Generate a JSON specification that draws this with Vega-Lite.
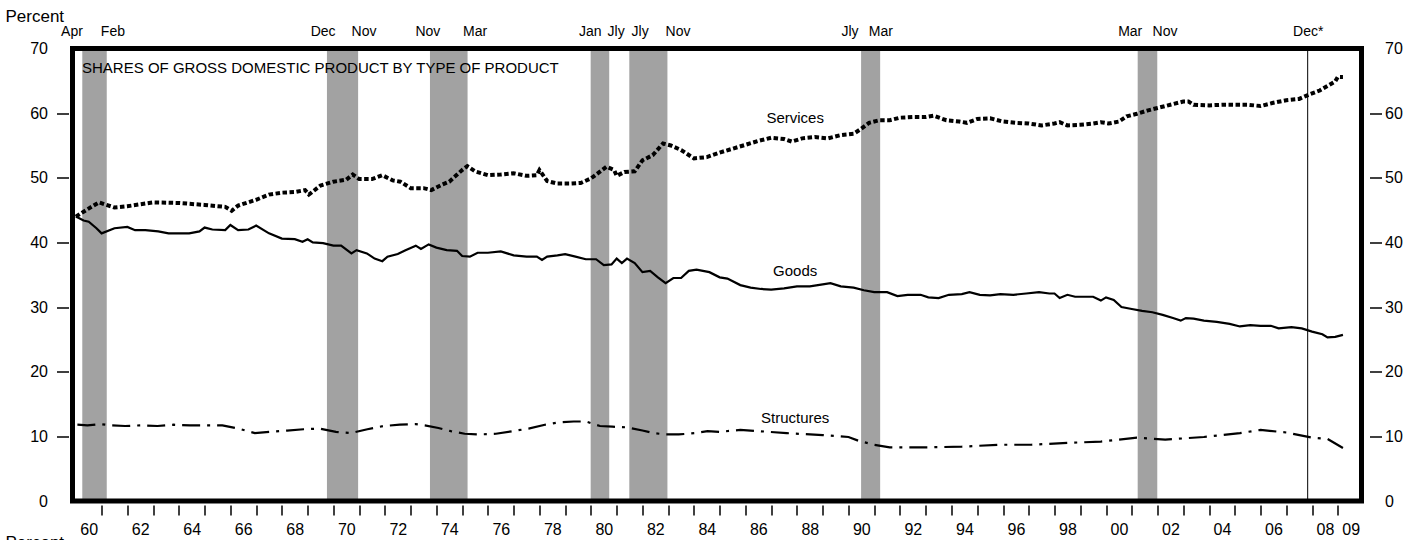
{
  "$schema": "https://vega.github.io/schema/vega-lite/v6.json",
  "width": 1289,
  "height": 452.5,
  "autosize": {"type": "none"},
  "padding": {"left": 72.5, "top": 48.5, "right": 62.5, "bottom": 39},
  "background": "white",
  "config": {
    "view": {"stroke": "black", "strokeWidth": 5},
    "style": {"cell": {"strokeForeground": true}},
    "font": "Liberation Sans",
    "axis": {"domain": false, "grid": false, "labelColor": "black", "labelFont": "Liberation Sans", "labelFontSize": 16, "labelOverlap": false, "labelFlush": false, "titleFont": "Liberation Sans", "titleFontWeight": "normal", "titleColor": "black"}
  },
  "datasets": {
    "recessions": [
      {"start": 1960.25, "end": 1961.2},
      {"start": 1969.75, "end": 1970.96},
      {"start": 1973.75, "end": 1975.21},
      {"start": 1979.99, "end": 1980.71},
      {"start": 1981.49, "end": 1982.97},
      {"start": 1990.49, "end": 1991.23},
      {"start": 2001.23, "end": 2001.99}
    ],
    "recessionLabels": [
      {"label": "Apr", "date": 1959.85},
      {"label": "Feb", "date": 1961.44},
      {"label": "Dec", "date": 1969.6},
      {"label": "Nov", "date": 1971.19},
      {"label": "Nov", "date": 1973.67},
      {"label": "Mar", "date": 1975.5},
      {"label": "Jan", "date": 1979.97},
      {"label": "Jly", "date": 1980.98},
      {"label": "Jly", "date": 1981.91},
      {"label": "Nov", "date": 1983.38},
      {"label": "Jly", "date": 1990.06},
      {"label": "Mar", "date": 1991.26},
      {"label": "Mar", "date": 2000.94},
      {"label": "Nov", "date": 2002.29},
      {"label": "Dec*", "date": 2007.85}
    ],
    "marker": [{"date": 2007.83}],
    "chartTitle": [{"text": "SHARES OF GROSS DOMESTIC PRODUCT BY TYPE OF PRODUCT", "date": 1960.24, "value": 67.0}],
    "seriesLabels": [
      {"label": "Services", "year": 1987.93, "value": 59.25},
      {"label": "Goods", "year": 1987.93, "value": 35.6},
      {"label": "Structures", "year": 1987.93, "value": 12.9}
    ],
    "services": [
      {"year": 1960.0, "value": 44.0}, {"year": 1960.4, "value": 45.0}, {"year": 1960.9, "value": 46.2}, {"year": 1961.5, "value": 45.4},
      {"year": 1962.0, "value": 45.6}, {"year": 1962.5, "value": 45.9}, {"year": 1963.0, "value": 46.2}, {"year": 1964.0, "value": 46.1},
      {"year": 1965.0, "value": 45.8}, {"year": 1965.8, "value": 45.5}, {"year": 1966.05, "value": 44.9}, {"year": 1966.3, "value": 45.7},
      {"year": 1967.0, "value": 46.6}, {"year": 1967.5, "value": 47.4}, {"year": 1968.0, "value": 47.7}, {"year": 1968.5, "value": 47.8},
      {"year": 1968.9, "value": 48.1}, {"year": 1969.05, "value": 47.4}, {"year": 1969.5, "value": 48.8}, {"year": 1970.0, "value": 49.4},
      {"year": 1970.5, "value": 49.7}, {"year": 1970.75, "value": 50.5}, {"year": 1971.0, "value": 49.8}, {"year": 1971.5, "value": 49.8},
      {"year": 1971.9, "value": 50.4}, {"year": 1972.3, "value": 49.6}, {"year": 1972.6, "value": 49.4}, {"year": 1973.0, "value": 48.4},
      {"year": 1973.5, "value": 48.4}, {"year": 1973.8, "value": 48.1}, {"year": 1974.2, "value": 48.9}, {"year": 1974.5, "value": 49.4},
      {"year": 1975.0, "value": 51.2}, {"year": 1975.2, "value": 51.8}, {"year": 1975.5, "value": 51.0}, {"year": 1976.0, "value": 50.4},
      {"year": 1976.5, "value": 50.5}, {"year": 1977.0, "value": 50.7}, {"year": 1977.5, "value": 50.3}, {"year": 1977.9, "value": 50.4},
      {"year": 1978.0, "value": 51.2}, {"year": 1978.3, "value": 49.5}, {"year": 1978.7, "value": 49.1}, {"year": 1979.2, "value": 49.1},
      {"year": 1979.6, "value": 49.2}, {"year": 1980.0, "value": 49.9}, {"year": 1980.3, "value": 50.8}, {"year": 1980.6, "value": 51.7},
      {"year": 1980.9, "value": 51.2}, {"year": 1981.0, "value": 50.3}, {"year": 1981.3, "value": 50.9}, {"year": 1981.7, "value": 51.0},
      {"year": 1982.0, "value": 52.7}, {"year": 1982.4, "value": 53.5}, {"year": 1982.8, "value": 55.3}, {"year": 1983.1, "value": 55.0},
      {"year": 1983.5, "value": 54.3}, {"year": 1984.0, "value": 53.0}, {"year": 1984.5, "value": 53.2}, {"year": 1985.0, "value": 53.9},
      {"year": 1985.5, "value": 54.5}, {"year": 1986.0, "value": 55.1}, {"year": 1986.5, "value": 55.7}, {"year": 1987.0, "value": 56.2},
      {"year": 1987.5, "value": 56.0}, {"year": 1987.8, "value": 55.6}, {"year": 1988.2, "value": 56.1}, {"year": 1988.7, "value": 56.3},
      {"year": 1989.2, "value": 56.1}, {"year": 1989.7, "value": 56.6}, {"year": 1990.2, "value": 56.8}, {"year": 1990.5, "value": 57.6},
      {"year": 1990.8, "value": 58.5}, {"year": 1991.2, "value": 58.9}, {"year": 1991.6, "value": 58.9}, {"year": 1992.0, "value": 59.3},
      {"year": 1992.5, "value": 59.4}, {"year": 1993.0, "value": 59.4}, {"year": 1993.3, "value": 59.6}, {"year": 1993.8, "value": 58.9},
      {"year": 1994.3, "value": 58.7}, {"year": 1994.6, "value": 58.5}, {"year": 1995.0, "value": 59.1}, {"year": 1995.5, "value": 59.2},
      {"year": 1996.0, "value": 58.7}, {"year": 1996.5, "value": 58.5}, {"year": 1997.0, "value": 58.4}, {"year": 1997.5, "value": 58.1},
      {"year": 1998.0, "value": 58.4}, {"year": 1998.2, "value": 58.6}, {"year": 1998.5, "value": 58.1}, {"year": 1999.0, "value": 58.2},
      {"year": 1999.5, "value": 58.4}, {"year": 1999.8, "value": 58.6}, {"year": 2000.1, "value": 58.4}, {"year": 2000.5, "value": 58.7},
      {"year": 2000.8, "value": 59.5}, {"year": 2001.2, "value": 59.9}, {"year": 2001.6, "value": 60.4}, {"year": 2002.0, "value": 60.8},
      {"year": 2002.5, "value": 61.3}, {"year": 2003.0, "value": 61.8}, {"year": 2003.2, "value": 61.8}, {"year": 2003.4, "value": 61.3},
      {"year": 2004.0, "value": 61.2}, {"year": 2004.5, "value": 61.3}, {"year": 2005.0, "value": 61.3}, {"year": 2005.5, "value": 61.3},
      {"year": 2006.0, "value": 61.1}, {"year": 2006.5, "value": 61.6}, {"year": 2007.0, "value": 62.0}, {"year": 2007.5, "value": 62.2},
      {"year": 2007.9, "value": 62.9}, {"year": 2008.3, "value": 63.5}, {"year": 2008.6, "value": 64.2}, {"year": 2008.9, "value": 64.9},
      {"year": 2009.0, "value": 65.6}, {"year": 2009.2, "value": 65.6}
    ],
    "goods": [
      {"year": 1960.0, "value": 44.0}, {"year": 1960.3, "value": 43.4}, {"year": 1960.5, "value": 43.2}, {"year": 1960.8, "value": 42.2},
      {"year": 1961.0, "value": 41.4}, {"year": 1961.5, "value": 42.2}, {"year": 1962.0, "value": 42.4}, {"year": 1962.3, "value": 41.9},
      {"year": 1962.7, "value": 41.9}, {"year": 1963.2, "value": 41.7}, {"year": 1963.6, "value": 41.4}, {"year": 1964.0, "value": 41.4},
      {"year": 1964.4, "value": 41.4}, {"year": 1964.8, "value": 41.7}, {"year": 1965.0, "value": 42.3}, {"year": 1965.3, "value": 42.0},
      {"year": 1965.8, "value": 41.9}, {"year": 1966.0, "value": 42.7}, {"year": 1966.3, "value": 41.9}, {"year": 1966.7, "value": 42.0},
      {"year": 1967.0, "value": 42.6}, {"year": 1967.5, "value": 41.4}, {"year": 1968.0, "value": 40.6}, {"year": 1968.5, "value": 40.5},
      {"year": 1968.8, "value": 40.1}, {"year": 1969.0, "value": 40.5}, {"year": 1969.2, "value": 40.0}, {"year": 1969.6, "value": 39.9},
      {"year": 1970.0, "value": 39.5}, {"year": 1970.3, "value": 39.5}, {"year": 1970.7, "value": 38.3}, {"year": 1970.9, "value": 38.8},
      {"year": 1971.3, "value": 38.3}, {"year": 1971.6, "value": 37.5}, {"year": 1971.9, "value": 37.1}, {"year": 1972.1, "value": 37.8},
      {"year": 1972.5, "value": 38.2}, {"year": 1972.8, "value": 38.8}, {"year": 1973.2, "value": 39.5}, {"year": 1973.4, "value": 39.0},
      {"year": 1973.7, "value": 39.7}, {"year": 1974.0, "value": 39.2}, {"year": 1974.4, "value": 38.8}, {"year": 1974.8, "value": 38.7},
      {"year": 1975.0, "value": 37.9}, {"year": 1975.3, "value": 37.8}, {"year": 1975.6, "value": 38.4}, {"year": 1976.0, "value": 38.4},
      {"year": 1976.5, "value": 38.6}, {"year": 1977.0, "value": 38.0}, {"year": 1977.5, "value": 37.8}, {"year": 1977.9, "value": 37.8},
      {"year": 1978.1, "value": 37.3}, {"year": 1978.3, "value": 37.8}, {"year": 1978.7, "value": 38.0}, {"year": 1979.0, "value": 38.2},
      {"year": 1979.4, "value": 37.8}, {"year": 1979.8, "value": 37.4}, {"year": 1980.2, "value": 37.4}, {"year": 1980.5, "value": 36.5},
      {"year": 1980.8, "value": 36.6}, {"year": 1981.0, "value": 37.5}, {"year": 1981.2, "value": 36.8}, {"year": 1981.4, "value": 37.5},
      {"year": 1981.7, "value": 36.8}, {"year": 1982.0, "value": 35.4}, {"year": 1982.3, "value": 35.6}, {"year": 1982.6, "value": 34.6},
      {"year": 1982.9, "value": 33.7}, {"year": 1983.2, "value": 34.5}, {"year": 1983.5, "value": 34.5}, {"year": 1983.8, "value": 35.6},
      {"year": 1984.1, "value": 35.8}, {"year": 1984.6, "value": 35.4}, {"year": 1985.0, "value": 34.6}, {"year": 1985.3, "value": 34.4},
      {"year": 1985.8, "value": 33.4}, {"year": 1986.2, "value": 33.0}, {"year": 1986.6, "value": 32.8}, {"year": 1987.0, "value": 32.7},
      {"year": 1987.5, "value": 32.9}, {"year": 1988.0, "value": 33.2}, {"year": 1988.5, "value": 33.2}, {"year": 1989.0, "value": 33.5},
      {"year": 1989.3, "value": 33.7}, {"year": 1989.7, "value": 33.2}, {"year": 1990.2, "value": 33.0}, {"year": 1990.6, "value": 32.6},
      {"year": 1991.0, "value": 32.3}, {"year": 1991.5, "value": 32.3}, {"year": 1991.9, "value": 31.7}, {"year": 1992.3, "value": 31.9},
      {"year": 1992.8, "value": 31.9}, {"year": 1993.1, "value": 31.5}, {"year": 1993.5, "value": 31.4}, {"year": 1993.9, "value": 31.9},
      {"year": 1994.4, "value": 32.0}, {"year": 1994.7, "value": 32.3}, {"year": 1995.1, "value": 31.9}, {"year": 1995.5, "value": 31.8},
      {"year": 1995.9, "value": 32.0}, {"year": 1996.4, "value": 31.9}, {"year": 1996.9, "value": 32.1}, {"year": 1997.4, "value": 32.3},
      {"year": 1997.8, "value": 32.1}, {"year": 1998.0, "value": 32.1}, {"year": 1998.2, "value": 31.4}, {"year": 1998.5, "value": 31.9},
      {"year": 1998.8, "value": 31.6}, {"year": 1999.2, "value": 31.6}, {"year": 1999.5, "value": 31.6}, {"year": 1999.8, "value": 31.0},
      {"year": 2000.0, "value": 31.5}, {"year": 2000.3, "value": 31.1}, {"year": 2000.6, "value": 30.0}, {"year": 2001.0, "value": 29.7},
      {"year": 2001.4, "value": 29.4}, {"year": 2001.8, "value": 29.2}, {"year": 2002.2, "value": 28.8}, {"year": 2002.6, "value": 28.3},
      {"year": 2002.9, "value": 27.9}, {"year": 2003.1, "value": 28.3}, {"year": 2003.4, "value": 28.2}, {"year": 2003.8, "value": 27.9},
      {"year": 2004.3, "value": 27.7}, {"year": 2004.8, "value": 27.4}, {"year": 2005.2, "value": 27.0}, {"year": 2005.6, "value": 27.2},
      {"year": 2006.0, "value": 27.1}, {"year": 2006.4, "value": 27.1}, {"year": 2006.7, "value": 26.7}, {"year": 2007.2, "value": 26.9},
      {"year": 2007.6, "value": 26.7}, {"year": 2008.0, "value": 26.2}, {"year": 2008.4, "value": 25.8}, {"year": 2008.6, "value": 25.3},
      {"year": 2008.9, "value": 25.4}, {"year": 2009.2, "value": 25.7}
    ],
    "structures": [
      {"year": 1960.06, "value": 11.8}, {"year": 1960.45, "value": 11.7}, {"year": 1960.94, "value": 11.9}, {"year": 1961.37, "value": 11.7},
      {"year": 1961.91, "value": 11.6}, {"year": 1962.53, "value": 11.7}, {"year": 1963.17, "value": 11.6}, {"year": 1963.8, "value": 11.8},
      {"year": 1964.43, "value": 11.7}, {"year": 1965.05, "value": 11.7}, {"year": 1965.69, "value": 11.7}, {"year": 1966.32, "value": 11.2},
      {"year": 1966.95, "value": 10.5}, {"year": 1967.57, "value": 10.7}, {"year": 1968.2, "value": 10.9}, {"year": 1968.84, "value": 11.1},
      {"year": 1969.47, "value": 11.2}, {"year": 1970.1, "value": 10.7}, {"year": 1970.68, "value": 10.5}, {"year": 1971.32, "value": 11.1},
      {"year": 1971.95, "value": 11.6}, {"year": 1972.58, "value": 11.8}, {"year": 1973.2, "value": 11.9}, {"year": 1973.55, "value": 11.7},
      {"year": 1974.08, "value": 11.3}, {"year": 1974.56, "value": 10.8}, {"year": 1975.1, "value": 10.4}, {"year": 1975.68, "value": 10.3},
      {"year": 1976.31, "value": 10.4}, {"year": 1976.95, "value": 10.8}, {"year": 1977.58, "value": 11.2}, {"year": 1978.21, "value": 11.8},
      {"year": 1978.83, "value": 12.2}, {"year": 1979.33, "value": 12.3}, {"year": 1979.8, "value": 12.3}, {"year": 1980.35, "value": 11.6},
      {"year": 1980.83, "value": 11.5}, {"year": 1981.37, "value": 11.4}, {"year": 1982.0, "value": 10.9}, {"year": 1982.44, "value": 10.5},
      {"year": 1982.88, "value": 10.3}, {"year": 1983.41, "value": 10.3}, {"year": 1984.04, "value": 10.5}, {"year": 1984.53, "value": 10.8},
      {"year": 1985.0, "value": 10.7}, {"year": 1985.8, "value": 11.0}, {"year": 1986.9, "value": 10.7}, {"year": 1987.6, "value": 10.5},
      {"year": 1989.0, "value": 10.2}, {"year": 1990.0, "value": 9.9}, {"year": 1990.4, "value": 9.3}, {"year": 1991.0, "value": 8.7},
      {"year": 1991.6, "value": 8.3}, {"year": 1992.9, "value": 8.3}, {"year": 1994.4, "value": 8.4}, {"year": 1995.8, "value": 8.7},
      {"year": 1997.1, "value": 8.7}, {"year": 1998.6, "value": 9.0}, {"year": 1999.8, "value": 9.2}, {"year": 2001.2, "value": 9.8},
      {"year": 2002.3, "value": 9.5}, {"year": 2003.8, "value": 9.9}, {"year": 2005.2, "value": 10.5}, {"year": 2006.0, "value": 11.0},
      {"year": 2007.0, "value": 10.6}, {"year": 2008.0, "value": 9.8}, {"year": 2008.6, "value": 9.6}, {"year": 2009.2, "value": 8.2}
    ]
  },
  "resolve": {"axis": {"x": "independent", "y": "independent"}},
  "layer": [
    {
      "data": {"name": "recessions"},
      "mark": {"type": "rect", "color": "#a2a2a2"},
      "encoding": {
        "x": {
          "field": "start", "type": "quantitative",
          "scale": {"domain": [1959.87, 2009.92], "nice": false, "zero": false},
          "axis": {
            "orient": "bottom", "offset": 4, "tickSize": 10, "tickWidth": 1.5,
            "tickColor": {"condition": {"test": "datum.value < 1961", "value": "transparent"}, "value": "black"},
            "values": [1960.5, 1961.5, 1962.5, 1963.5, 1964.5, 1965.5, 1966.5, 1967.5, 1968.5, 1969.5, 1970.5, 1971.5, 1972.5, 1973.5, 1974.5, 1975.5, 1976.5, 1977.5, 1978.5, 1979.5, 1980.5, 1981.5, 1982.5, 1983.5, 1984.5, 1985.5, 1986.5, 1987.5, 1988.5, 1989.5, 1990.5, 1991.5, 1992.5, 1993.5, 1994.5, 1995.5, 1996.5, 1997.5, 1998.5, 1999.5, 2000.5, 2001.5, 2002.5, 2003.5, 2004.5, 2005.5, 2006.5, 2007.5, 2008.5, 2009.5],
            "tickOffset": -12.875, "labelOffset": 12.875, "labelPadding": 6,
            "labelExpr": "(floor(datum.value) % 2 == 0 || floor(datum.value) == 2009) ? substring(toString(floor(datum.value)), 2, 4) : ''",
            "title": "Percent", "titleFontSize": 17, "titleAlign": "left", "titleBaseline": "top", "titleX": -67.5, "titleY": 29
          }
        },
        "x2": {"field": "end"}
      }
    },
    {
      "data": {"name": "marker"},
      "mark": {"type": "rule", "color": "black", "strokeWidth": 1},
      "encoding": {"x": {"field": "date", "type": "quantitative", "axis": null}}
    },
    {
      "data": {"name": "goods"},
      "mark": {"type": "line", "color": "black", "strokeWidth": 2.2},
      "encoding": {
        "x": {"field": "year", "type": "quantitative", "axis": null},
        "y": {
          "field": "value", "type": "quantitative",
          "scale": {"domain": [0, 70], "nice": false},
          "axis": {
            "orient": "left", "offset": 4, "tickSize": 12, "tickWidth": 1.5, "labelPadding": 9,
            "values": [0, 10, 20, 30, 40, 50, 60, 70],
            "tickColor": {"condition": {"test": "datum.value == 0 || datum.value == 70", "value": "transparent"}, "value": "black"},
            "title": "Percent", "titleFontSize": 17, "titleAngle": 0, "titleAlign": "left", "titleBaseline": "alphabetic", "titleX": -63.5, "titleY": -27.5
          }
        }
      }
    },
    {
      "data": {"name": "services"},
      "mark": {"type": "line", "color": "black", "strokeWidth": 4, "strokeDash": [4.5, 2.5], "strokeCap": "butt"},
      "encoding": {
        "x": {"field": "year", "type": "quantitative", "axis": null},
        "y": {
          "field": "value", "type": "quantitative",
          "axis": {
            "orient": "right", "offset": 8, "tickSize": 12, "tickWidth": 1.5, "labelPadding": 3,
            "values": [0, 10, 20, 30, 40, 50, 60, 70],
            "tickColor": {"condition": {"test": "datum.value == 0 || datum.value == 70", "value": "transparent"}, "value": "black"},
            "title": null
          }
        }
      }
    },
    {
      "data": {"name": "structures"},
      "mark": {"type": "line", "color": "black", "strokeWidth": 2.2, "strokeDash": [18, 7, 3, 7]},
      "encoding": {
        "x": {"field": "year", "type": "quantitative", "axis": null},
        "y": {"field": "value", "type": "quantitative", "axis": null}
      }
    },
    {
      "data": {"name": "seriesLabels"},
      "mark": {"type": "text", "fontSize": 15, "align": "center", "baseline": "middle", "color": "black"},
      "encoding": {
        "x": {"field": "year", "type": "quantitative", "axis": null},
        "y": {"field": "value", "type": "quantitative", "axis": null},
        "text": {"field": "label"}
      }
    },
    {
      "data": {"name": "chartTitle"},
      "mark": {"type": "text", "fontSize": 15, "align": "left", "baseline": "middle", "color": "black"},
      "encoding": {
        "x": {"field": "date", "type": "quantitative", "axis": null},
        "y": {"field": "value", "type": "quantitative", "axis": null},
        "text": {"field": "text"}
      }
    },
    {
      "data": {"name": "recessionLabels"},
      "mark": {"type": "text", "fontSize": 14, "align": "center", "baseline": "alphabetic", "dy": -13, "color": "black"},
      "encoding": {
        "x": {"field": "date", "type": "quantitative", "axis": null},
        "y": {"datum": 70, "type": "quantitative", "axis": null},
        "text": {"field": "label"}
      }
    }
  ]
}
